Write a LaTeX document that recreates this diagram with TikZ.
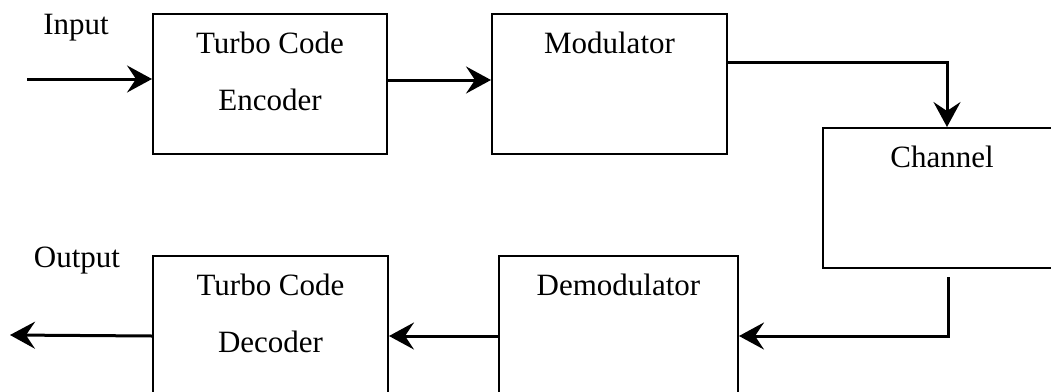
\documentclass[tikz,border=0pt]{standalone}
\usepackage{fontspec}
\setmainfont{Liberation Serif}
\usetikzlibrary{arrows.meta,positioning}
\tikzset{
  block/.style     = {shape=rectangle, draw, line width=2pt, inner sep=0pt,
                      minimum height=140pt, anchor=north west},
  blocktext/.style = {align=center, inner sep=0pt, anchor=north,
                      font=\fontsize{31}{57}\selectfont},
  iotext/.style    = {inner sep=0pt, anchor=base,
                      font=\fontsize{31}{37}\selectfont},
  flow/.style      = {line width=3pt,
                      -{Stealth[length=25pt,width=27pt,inset=9pt]}}
}

\begin{document}
\begin{tikzpicture}[x=1pt,y=1pt]
  \clip (0,0) rectangle (1051,-391);

  \node[block, minimum width=234pt] (enc)   at (152,-13)  {};
  \node[block, minimum width=235pt] (mod)   at (491,-13)  {};
  \node[block, minimum width=238pt] (chan)  at (822,-127) {};
  \node[block, minimum width=239pt] (demod) at (498,-255) {};
  \node[block, minimum width=235pt] (dec)   at (152,-255) {};

  \node[blocktext, below=19pt of enc.north]   (enctext)   {Turbo Code\\Encoder};
  \node[blocktext, below=19pt of mod.north]   (modtext)   {Modulator};
  \node[blocktext, below=19pt of chan.north]  (chantext)  {Channel};
  \node[blocktext, below=19pt of demod.north] (demodtext) {Demodulator};
  \node[blocktext, below=19pt of dec.north]   (dectext)   {Turbo Code\\Decoder};

  \node[iotext] (inlabel)  at (76,-34)  {Input};
  \node[iotext] (outlabel) at (77,-267) {Output};

  \coordinate (in)  at (27,-79);
  \coordinate (out) at (10,-335);
  \coordinate (chanout) at ([shift={(6,-8)}]chan.south);

  \draw[flow] (in) -- (in -| enc.west);
  \draw[flow] ([yshift=4pt]enc.east) -- ([yshift=4pt]mod.west);
  \draw[flow] ([yshift=22pt]mod.east) -| ([xshift=5pt]chan.north);
  \draw[flow] (chanout) |- ([yshift=-10pt]demod.east);
  \draw[flow] ([yshift=-10pt]demod.west) -- ([yshift=-10pt]dec.east);
  \draw[flow] ([yshift=-10pt]dec.west) -- (out);
\end{tikzpicture}
\end{document}
